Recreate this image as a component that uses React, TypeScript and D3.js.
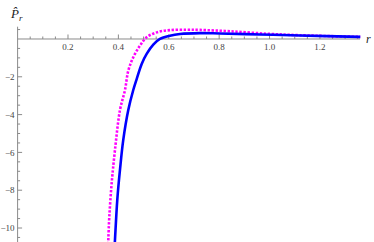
import React from "react";
import * as d3 from "d3";

const blueR = [0.383, 0.3865, 0.3956, 0.4063, 0.4194, 0.4393, 0.4591, 0.4726, 0.4925, 0.5123, 0.5385, 0.565, 0.6048, 0.6444, 0.7238, 0.803, 0.962, 1.12, 1.36];
const blueV = [-11.5, -10.63, -8.52, -6.93, -5.34, -3.76, -2.7, -2.12, -1.32, -0.79, -0.3, 0.0, 0.17, 0.26, 0.31, 0.29, 0.24, 0.185, 0.11];
const magR = [0.357, 0.36, 0.364, 0.3734, 0.3865, 0.4063, 0.4262, 0.4393, 0.4591, 0.4857, 0.5123, 0.552, 0.6048, 0.671, 0.7238, 0.843, 1.0, 1.12, 1.36];
const magV = [-11.5, -10.63, -9.4, -7.63, -5.87, -3.76, -2.7, -1.68, -0.97, -0.35, 0.09, 0.35, 0.47, 0.49, 0.48, 0.41, 0.27, 0.2, 0.11];
const xMajor = [0.2, 0.4, 0.6, 0.8, 1.0, 1.2];
const yMajor = [-2, -4, -6, -8, -10];

const SERIF = "'Liberation Serif', 'DejaVu Serif', 'Times New Roman', serif";

export default function App() {
  const W = 374, H = 242;
  const x = d3.scaleLinear().domain([0, 1.359]).range([17.6, 360]);
  const y = d3.scaleLinear().domain([0.65, -10.74]).range([26.7, 242]);
  const line = d3.line<[number, number]>().x(d => x(d[0])).y(d => y(d[1])).curve(d3.curveCatmullRom.alpha(0.5));
  const blue = blueR.map((r, i) => [r, blueV[i]] as [number, number]);
  const mag = magR.map((r, i) => [r, magV[i]] as [number, number]);
  const xMinor = d3.range(1, 28).map(i => i * 0.05).filter(v => !xMajor.some(m => Math.abs(m - v) < 1e-6));
  const yMinor = d3.range(-21, 2).map(i => i * 0.5).filter(v => v !== 0 && !yMajor.some(m => Math.abs(m - v) < 1e-6));
  const fmt = (v: number) => (v < 0 ? "\u2212" + Math.abs(v) : d3.format(".1f")(v));
  const axisColor = "#8a8a8a";
  const y0 = y(0), x0 = x(0);
  return (
    <div style={{ position: "fixed", left: 0, top: 0 }}>
      <svg width={W} height={H} style={{ display: "block", background: "#fff" }}>
        <defs>
          <clipPath id="plot"><rect x={x0} y={0} width={x(1.359) - x0 + 2} height={H} /></clipPath>
        </defs>
        <line x1={x0} x2={x(1.359)} y1={y0} y2={y0} stroke={axisColor} strokeWidth={1} />
        <line x1={x0} x2={x0} y1={y(0.65)} y2={H} stroke={axisColor} strokeWidth={1} />
        {xMajor.map(v => (
          <g key={"xm" + v}>
            <line x1={x(v)} x2={x(v)} y1={y0} y2={y0 - 4.5} stroke={axisColor} />
            <text x={x(v)} y={y0 + 11} fontSize={9} fontFamily={SERIF} fill="#444" textAnchor="middle">{fmt(v)}</text>
          </g>
        ))}
        {xMinor.map(v => (
          <line key={"xn" + v} x1={x(v)} x2={x(v)} y1={y0} y2={y0 - 2.5} stroke={axisColor} />
        ))}
        {yMajor.map(v => (
          <g key={"ym" + v}>
            <line x1={x0} x2={x0 + 4.5} y1={y(v)} y2={y(v)} stroke={axisColor} />
            <text x={x0 - 3} y={y(v) + 3.2} fontSize={9} fontFamily={SERIF} fill="#444" textAnchor="end">{fmt(v)}</text>
          </g>
        ))}
        {yMinor.map(v => (
          <line key={"yn" + v} x1={x0} x2={x0 + 2.5} y1={y(v)} y2={y(v)} stroke={axisColor} />
        ))}
        <g clipPath="url(#plot)">
          <path d={line(mag) || ""} fill="none" stroke="#ff00ff" strokeWidth={2.6} strokeDasharray="2.4,1.6" />
          <path d={line(blue) || ""} fill="none" stroke="#0000ff" strokeWidth={2.6} />
        </g>
        <text x={11} y={18} fontSize={13} fontStyle="italic" fontFamily={SERIF} fill="#222">
          {"P\u0302"}
          <tspan fontSize={9} dy={3}>r</tspan>
        </text>
        <text x={366} y={43} fontSize={12} fontStyle="italic" fontFamily={SERIF} fill="#222">r</text>
      </svg>
    </div>
  );
}
